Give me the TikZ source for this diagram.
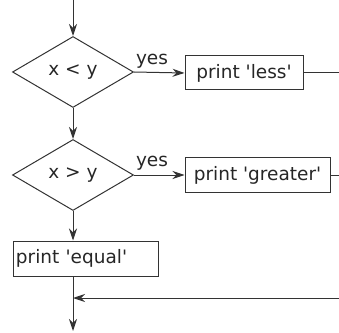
\documentclass[tikz,border=0pt]{standalone}
\usepackage{fontspec}
\setmainfont{DejaVu Sans}
\usetikzlibrary{shapes.geometric,arrows.meta}
\begin{document}
\begin{tikzpicture}[x=1pt,y=1pt,
  every node/.style={font=\fontsize{18.5}{22}\selectfont, text=black!85},
  line/.style={line width=1pt, draw=black!80},
  arr/.style={line, -{Stealth[length=12pt,width=8pt,inset=4pt]}},
  dec/.style={diamond, draw=black!80, line width=1pt, minimum width=121pt, minimum height=71pt, inner sep=0pt},
  proc/.style={rectangle, draw=black!80, line width=1pt, minimum height=34pt, inner sep=3pt}]
\useasboundingbox (0,0) rectangle (339,332);
\coordinate (start) at (73,332);
\node[dec] (d1) at (73,260) {x < y};
\node[proc, minimum width=118pt] (b1) at (244,259) {print \textquotesingle less\textquotesingle};
\node[dec] (d2) at (73,157) {x > y};
\node[proc, minimum width=145pt] (b2) at (257.5,157) {print \textquotesingle greater\textquotesingle};
\node[proc, text width=139pt, align=left, minimum height=35pt] (b3) at (85.5,73.5) {print \textquotesingle equal\textquotesingle};
\coordinate (m) at (73,34);
\coordinate (end) at (73,1);
\coordinate (r1) at (339,259);
\coordinate (r2) at (339,157);
\coordinate (r3) at (339,34);
\node[anchor=south, inner sep=1pt] (y1) at (152,262) {yes};
\node[anchor=south, inner sep=1pt] (y2) at (152,160) {yes};
\draw[arr] (start) -- (d1.north);
\draw[arr] (d1.east) -- (b1.west);
\draw[line] (b1.east) -- (r1);
\draw[arr] (d1.south) -- (d2.north);
\draw[arr] (d2.east) -- (b2.west);
\draw[line] (b2.east) -- (r2);
\draw[arr] (d2.south) -- (b3.north -| d2.south);
\draw[arr] (b3.south -| d2.south) -- (end);
\draw[arr] (r3) -- (m);
\end{tikzpicture}
\end{document}
